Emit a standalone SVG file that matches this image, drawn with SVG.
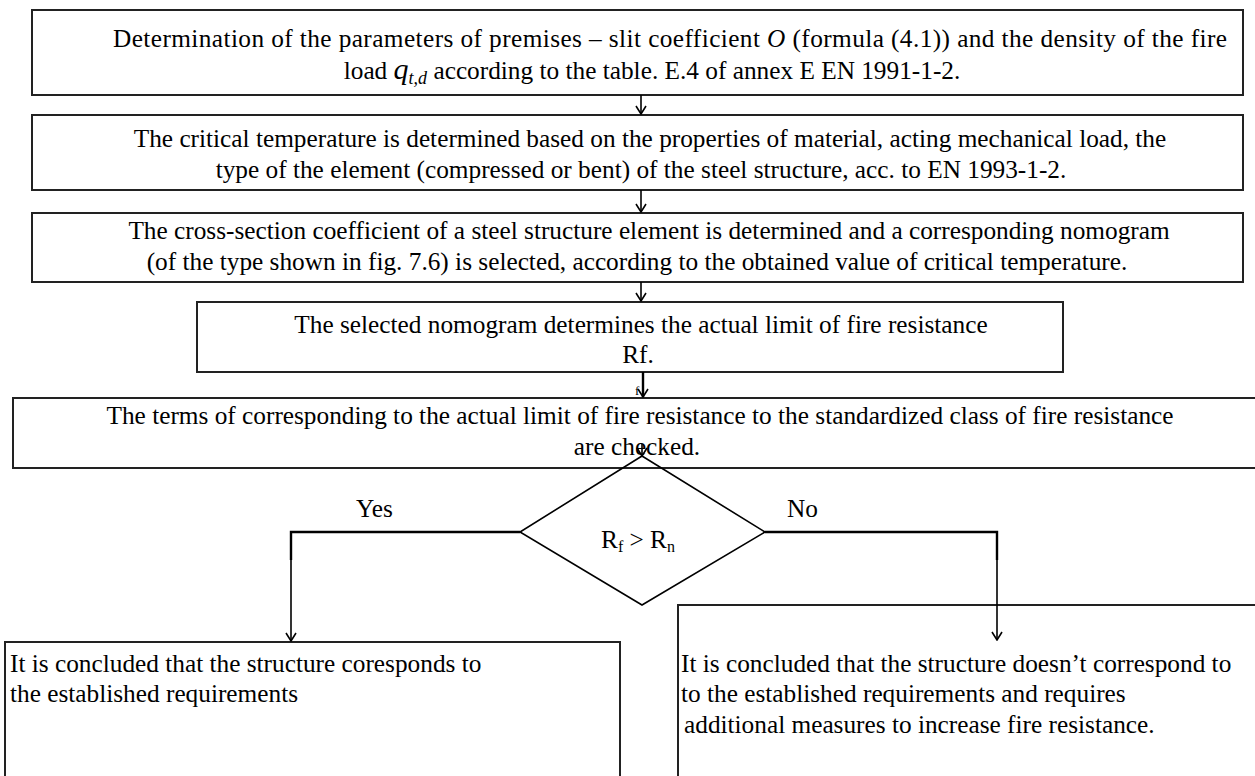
<svg xmlns="http://www.w3.org/2000/svg" width="1255" height="776" viewBox="0 0 1255 776">
<defs>
<marker id="arr" markerWidth="10" markerHeight="12" refX="9" refY="6" orient="auto" markerUnits="userSpaceOnUse" viewBox="0 0 10 12">
<path d="M1,1 L9,6 L1,11" fill="none" stroke="#000" stroke-width="1.6"/>
</marker>
<style>
.box{fill:#fff;stroke:#222;stroke-width:2}
.t{font-family:"Liberation Serif","Times New Roman",serif;font-size:25.3px;fill:#000}
.c{text-anchor:middle}
.ln{fill:none;stroke:#000;stroke-width:1.6}
.lt{fill:none;stroke:#000;stroke-width:2.4}
</style>
</defs>
<rect width="1255" height="776" fill="#fff"/>

<g id="n1">
<rect class="box" x="32" y="10" width="1211" height="85"/>
<text class="t" x="113" y="47" textLength="1114" lengthAdjust="spacing">Determination of the parameters of premises – slit coefficient <tspan font-style="italic">O</tspan> (formula (4.1)) and the density of the fire</text>
<text class="t c" x="652" y="79">load <tspan font-style="italic" font-size="30">q</tspan><tspan font-style="italic" font-size="18" dy="5">t,d</tspan><tspan dy="-5"> according to the table. E.4 of annex E EN 1991-1-2.</tspan></text>
</g>

<g id="n2">
<rect class="box" x="32" y="115" width="1211" height="75"/>
<text class="t c" x="650" y="147">The critical temperature is determined based on the properties of material, acting mechanical load, the</text>
<text class="t c" x="641" y="178">type of the element (compressed or bent) of the steel structure, acc. to EN 1993-1-2.</text>
</g>

<g id="n3">
<rect class="box" x="32" y="213" width="1211" height="69"/>
<text class="t c" x="649" y="239">The cross-section coefficient of a steel structure element is determined and a corresponding nomogram</text>
<text class="t c" x="637" y="270">(of the type shown in fig. 7.6) is selected, according to the obtained value of critical temperature.</text>
</g>

<g id="n4">
<rect class="box" x="197" y="302" width="866" height="70"/>
<text class="t c" x="641" y="333">The selected nomogram determines the actual limit of fire resistance</text>
<text class="t c" x="638" y="363">Rf.</text>
</g>

<g id="n5">
<rect class="box" x="13" y="398" width="1260" height="70"/>
<text class="t c" x="640" y="424">The terms of corresponding to the actual limit of fire resistance to the standardized class of fire resistance</text>
<text class="t c" x="637" y="455">are checked.</text>
</g>

<g id="n6">
<polygon points="642,456 520,532 642,605 765,532" fill="none" stroke="#000" stroke-width="1.6"/>
<text class="t c" x="638" y="548">R<tspan font-size="16" dy="4">f</tspan><tspan dy="-4"> &gt; R</tspan><tspan font-size="16" dy="4">n</tspan></text>
</g>

<g id="n7">
<rect class="box" x="5" y="642" width="615" height="160"/>
<text class="t" x="10" y="672">It is concluded that the structure coresponds to</text>
<text class="t" x="10" y="702">the established requirements</text>
</g>

<g id="n8">
<rect class="box" x="678" y="605" width="600" height="200"/>
<text class="t" x="681" y="672">It is concluded that the structure doesn’t correspond to</text>
<text class="t" x="681" y="702">to the established requirements and requires</text>
<text class="t" x="684" y="733">additional measures to increase fire resistance.</text>
</g>

<g id="connectors">
<line class="ln" x1="641" y1="95" x2="641" y2="114" marker-end="url(#arr)"/>
<line class="ln" x1="641" y1="190" x2="641" y2="212" marker-end="url(#arr)"/>
<line class="ln" x1="641" y1="282" x2="641" y2="301" marker-end="url(#arr)"/>
<line class="lt" x1="643" y1="372" x2="643" y2="397" marker-end="url(#arr)"/>
<line class="ln" x1="642" y1="444" x2="642" y2="456" marker-end="url(#arr)"/>
<polyline class="lt" points="520,532 291,532 291,560"/>
<line class="ln" x1="291" y1="558" x2="291" y2="641" marker-end="url(#arr)"/>
<polyline class="lt" points="765,532 997,532 997,560"/>
<line class="ln" x1="997" y1="558" x2="997" y2="640" marker-end="url(#arr)"/>
<text class="t" x="356" y="517">Yes</text>
<text class="t" x="787" y="517">No</text>
<text font-family="Liberation Serif, serif" font-size="13" x="635" y="395">f</text>
</g>
</svg>
